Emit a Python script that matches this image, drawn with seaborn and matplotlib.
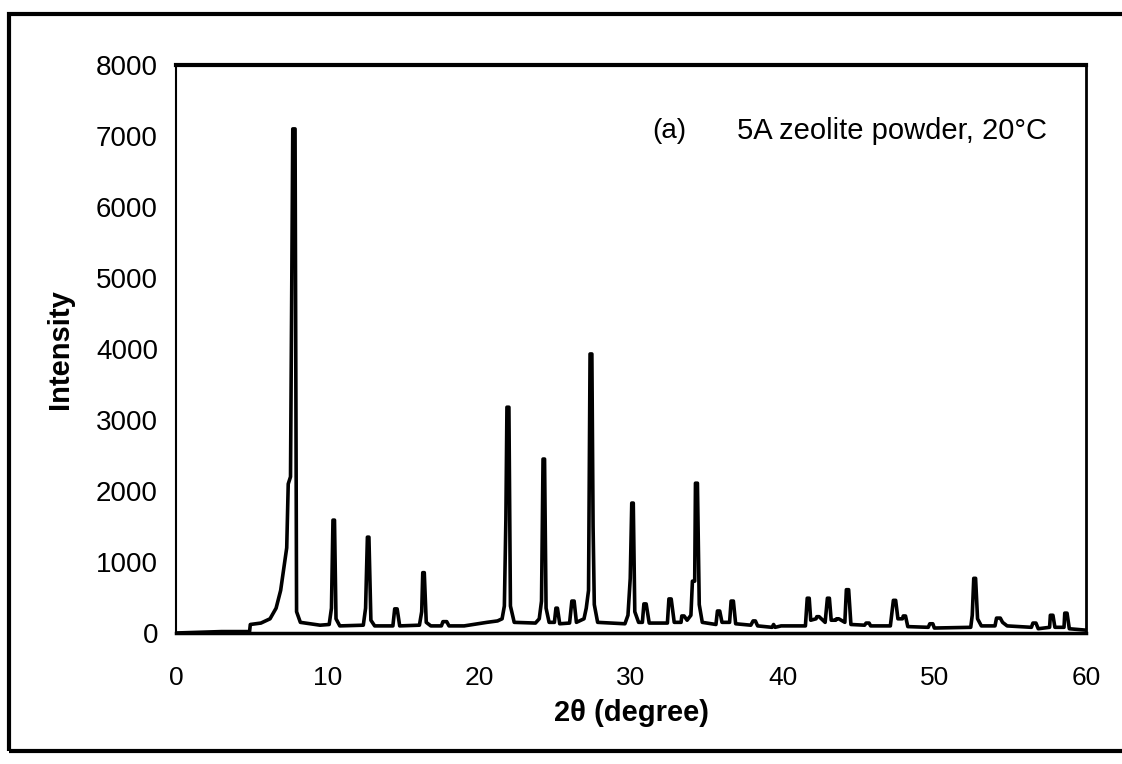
import matplotlib
matplotlib.use("Agg")
import matplotlib.pyplot as plt
import seaborn as sns
import pandas as pd
from matplotlib.patches import Rectangle

two_theta = [
    0.0, 1.5, 3.0, 4.85, 4.9, 5.6, 6.2, 6.6, 6.9, 7.1, 7.3, 7.4, 7.55, 7.7, 7.85, 7.95, 8.2, 9.5,
    10.1, 10.25, 10.35, 10.45, 10.55, 10.8,
    12.35, 12.5, 12.58, 12.62, 12.72, 12.85, 13.1,
    14.3, 14.42, 14.58, 14.75,
    16.05, 16.2, 16.27, 16.37, 16.5, 16.8,
    17.5, 17.6, 17.85, 18.0,
    19.0, 20.5, 21.2,
    21.5, 21.65, 21.75, 21.82, 21.95, 22.05, 22.3, 23.7,
    23.95, 24.1, 24.2, 24.3, 24.4, 24.6,
    24.95, 25.05, 25.15, 25.3, 25.95,
    26.1, 26.25, 26.4, 26.9,
    27.05, 27.2, 27.3, 27.42, 27.5, 27.58, 27.8, 29.6,
    29.8, 29.95, 30.05, 30.15, 30.25, 30.5, 30.75,
    30.85, 31.0, 31.2, 32.4,
    32.5, 32.65, 32.85, 33.3,
    33.35, 33.5, 33.7, 33.95,
    34.05, 34.2, 34.25, 34.38, 34.5, 34.7, 35.6,
    35.7, 35.85, 36.0, 36.5,
    36.6, 36.75, 36.9, 37.9,
    38.05, 38.2, 38.35, 39.3, 39.4, 39.5,
    39.9, 40.1,
    41.5, 41.62, 41.75, 41.85, 42.2,
    42.25, 42.4, 42.8,
    42.95, 43.08, 43.2, 43.5,
    43.55, 43.7, 44.1,
    44.2, 44.35, 44.5, 45.4,
    45.5, 45.7, 45.8, 47.1,
    47.3, 47.45, 47.6, 47.9,
    47.95, 48.1, 48.25, 49.6,
    49.7, 49.9, 50.0, 52.4,
    52.5, 52.6, 52.72, 52.85, 53.1, 54.0,
    54.1, 54.35, 54.5, 54.8, 56.4,
    56.5, 56.7, 56.85, 57.6,
    57.65, 57.82, 57.95, 58.55,
    58.6, 58.75, 58.9, 60.0,
]
intensity = [
    0, 10, 20, 20, 120, 140, 200, 350, 600, 900, 1200, 2100, 2200, 7100, 7100, 300, 150, 110,
    120, 350, 1590, 1590, 200, 100,
    110, 350, 1000, 1350, 1350, 180, 100,
    100, 340, 340, 100,
    110, 300, 850, 850, 150, 100,
    100, 160, 160, 100,
    100, 150, 170,
    200, 380, 1600, 3180, 3180, 380, 150, 140,
    200, 450, 2450, 2450, 350, 150,
    150, 350, 350, 130, 140,
    450, 450, 150, 200,
    350, 600, 3930, 3930, 1500, 400, 150, 130,
    250, 770, 1830, 1830, 300, 150, 150,
    410, 410, 140, 140,
    480, 480, 150, 150,
    240, 240, 180, 250,
    730, 730, 2110, 2110, 400, 150, 120,
    310, 310, 150, 150,
    450, 450, 130, 110,
    170, 170, 100, 80, 120, 80,
    100, 100,
    100, 490, 490, 180, 200,
    230, 230, 150,
    490, 490, 180, 180,
    200, 200, 150,
    610, 610, 120, 110,
    140, 140, 100, 100,
    460, 460, 200, 200,
    240, 240, 90, 80,
    130, 130, 70, 80,
    250, 770, 770, 200, 100, 100,
    210, 210, 150, 100, 80,
    140, 140, 60, 80,
    250, 250, 80, 80,
    280, 280, 60, 40,
]

x_ticks = [0, 10, 20, 30, 40, 50, 60]
y_ticks = [0, 1000, 2000, 3000, 4000, 5000, 6000, 7000, 8000]
panel_label = "(a)"
sample_label = "5A zeolite powder, 20\u00b0C"
x_label = "2\u03b8 (degree)"
y_label = "Intensity"

df = pd.DataFrame({"two_theta": two_theta, "intensity": intensity})

sns.set_style("white")
plt.rcParams["font.family"] = ["Liberation Sans", "DejaVu Sans"]
plt.rcParams["text.color"] = "black"
plt.rcParams["axes.labelcolor"] = "black"
plt.rcParams["xtick.color"] = "black"
plt.rcParams["ytick.color"] = "black"

fig = plt.figure(figsize=(11.22, 7.64), dpi=100)
ax = fig.add_axes([176 / 1122, 1 - 633 / 764, (1086 - 176) / 1122, (633 - 65) / 764])

sns.lineplot(data=df, x="two_theta", y="intensity", ax=ax, estimator=None,
             sort=False, color="black", linewidth=2.6)

ax.set_xlim(0, 60)
ax.set_ylim(0, 8000)
ax.set_xticks(x_ticks)
ax.set_yticks(y_ticks)
ax.set_xticklabels([str(v) for v in x_ticks], fontsize=19)
ax.set_yticklabels([str(v) for v in y_ticks], fontsize=20)
ax.tick_params(axis="x", direction="out", length=5, width=1, pad=19)
ax.tick_params(axis="y", direction="out", length=4, width=1, pad=9)
ax.set_xlabel(x_label, fontsize=21, fontweight="bold", labelpad=6)
ax.set_ylabel(y_label, fontsize=21, fontweight="bold", labelpad=16)

for side, lw in (("top", 3.0), ("bottom", 2.5), ("left", 1.5), ("right", 2.0)):
    ax.spines[side].set_visible(True)
    ax.spines[side].set_color("black")
    ax.spines[side].set_linewidth(lw)

ax.text(32.5, 7070, panel_label, fontsize=20, ha="center", va="center")
ax.text(37.0, 7070, sample_label, fontsize=21, ha="left", va="center")

# outer frame of the scanned figure
fig.patches.append(Rectangle((9 / 1122, 1 - 751 / 764), 1.2, (751 - 14) / 764,
                             transform=fig.transFigure, fill=False,
                             edgecolor="black", linewidth=3.0, zorder=0))

fig.savefig("out.png", dpi=100, facecolor="white")
